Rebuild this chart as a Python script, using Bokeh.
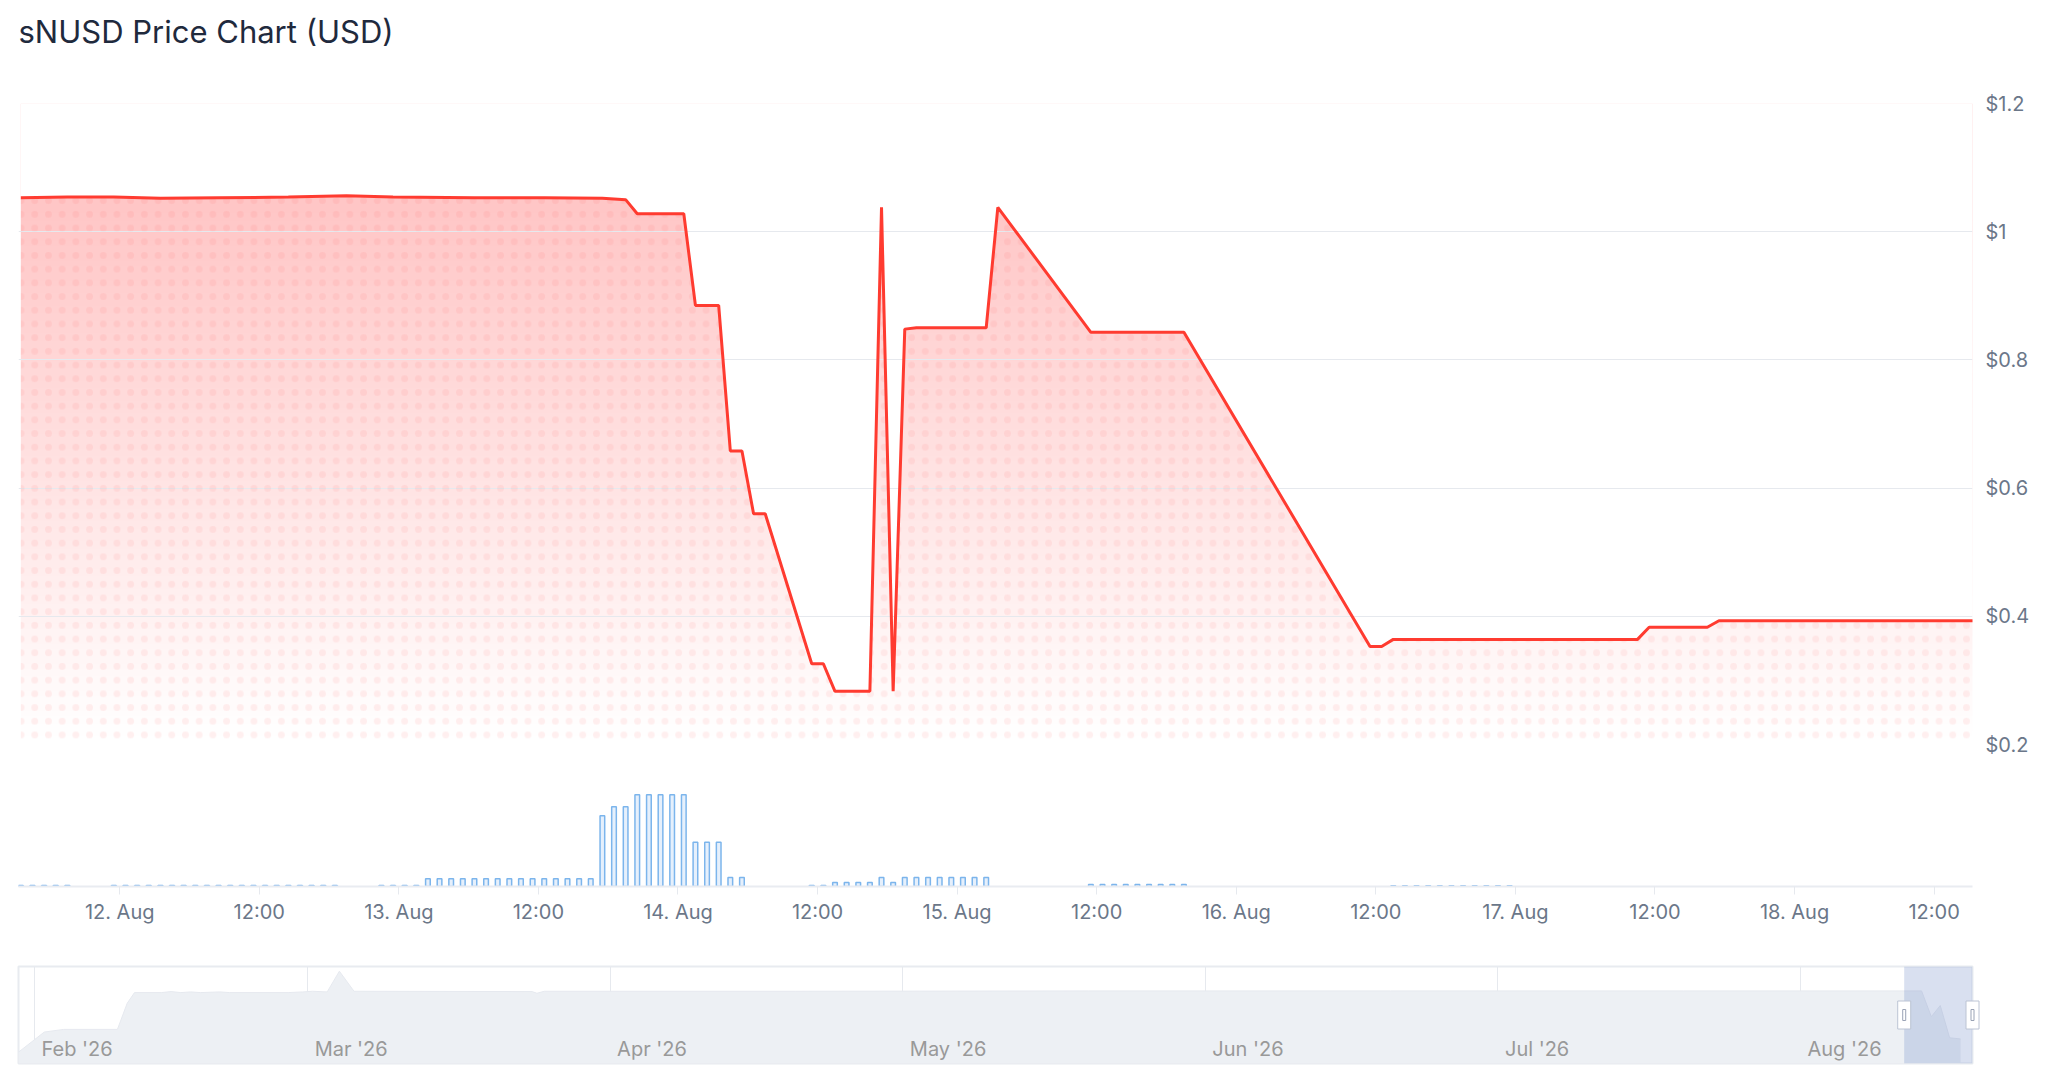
import numpy as np
import pandas as pd
from bokeh.plotting import figure
from bokeh.layouts import column
from bokeh.models import Range1d, FixedTicker, BoxAnnotation, Grid
from bokeh.core.properties import value
from bokeh.embed import file_html
from bokeh.resources import INLINE

# ---------------- data ----------------
TITLE = "sNUSD Price Chart (USD)"
ANCHOR = pd.Timestamp("2026-08-12 00:00")   # hour offsets below are measured from this instant

price_hours = [-8.5, -4.5, -0.5, 3.5, 8.5, 14.5, 19.5, 23.5, 30.5, 36.5,
               41.5, 42.5, 43.5, 44.5, 48.5, 49.5, 51.5, 52.5, 53.5, 54.5,
               55.5, 59.5, 60.5, 61.5, 64.5, 65.5, 66.5, 67.5, 68.5, 74.5,
               75.5, 83.5, 91.5, 107.5, 108.5, 109.5, 130.5, 131.5, 136.5, 137.5,
               159.5]
price_usd = [1.053, 1.054, 1.054, 1.052, 1.053, 1.054, 1.056, 1.054, 1.053, 1.053,
             1.052, 1.051, 1.050, 1.028, 1.028, 0.885, 0.885, 0.658, 0.658, 0.560,
             0.560, 0.326, 0.326, 0.283, 0.283, 1.038, 0.283, 0.848, 0.850, 0.850,
             1.038, 0.843, 0.843, 0.353, 0.353, 0.364, 0.364, 0.383, 0.383, 0.393,
             0.393]

vol_hours = [-8.5, -7.5, -6.5, -5.5, -4.5,
             -0.5, 0.5, 1.5, 2.5, 3.5, 4.5, 5.5, 6.5, 7.5, 8.5,
             9.5, 10.5, 11.5, 12.5, 13.5, 14.5, 15.5, 16.5, 17.5, 18.5,
             22.5, 23.5, 24.5, 25.5,
             26.5, 27.5, 28.5, 29.5, 30.5, 31.5, 32.5, 33.5, 34.5, 35.5,
             36.5, 37.5, 38.5, 39.5, 40.5,
             41.5, 42.5, 43.5, 44.5, 45.5, 46.5, 47.5, 48.5, 49.5, 50.5,
             51.5, 52.5, 53.5,
             59.5, 60.5, 61.5, 62.5, 63.5, 64.5, 65.5, 66.5, 67.5, 68.5,
             69.5, 70.5, 71.5, 72.5, 73.5, 74.5,
             83.5, 84.5, 85.5, 86.5, 87.5, 88.5, 89.5, 90.5, 91.5,
             109.5, 110.5, 111.5, 112.5, 113.5, 114.5, 115.5, 116.5, 117.5, 118.5,
             119.5]
vol_k = [1.0, 1.0, 1.0, 1.0, 1.0,
         1.0, 1.0, 1.0, 1.0, 1.0, 1.0, 1.0, 1.0, 1.0, 1.0,
         1.0, 1.0, 1.0, 1.0, 1.0, 1.0, 1.0, 1.0, 1.0, 1.0,
         1.0, 1.0, 1.0, 1.0,
         7.7, 7.7, 7.7, 7.7, 7.7, 7.7, 7.7, 7.7, 7.7, 7.7,
         7.7, 7.7, 7.7, 7.7, 7.7,
         70.3, 79.0, 79.0, 91.0, 91.0, 91.0, 91.0, 91.0, 44.0, 44.0,
         44.0, 9.0, 9.0,
         1.0, 1.0, 4.0, 4.0, 4.0, 4.0, 9.0, 4.0, 9.0, 9.0,
         9.0, 9.0, 9.0, 9.0, 9.0, 9.0,
         2.0, 2.0, 2.0, 2.0, 2.0, 2.0, 2.0, 2.0, 2.0,
         0.7, 0.7, 0.7, 0.7, 0.7, 0.7, 0.7, 0.7, 0.7, 0.7,
         0.7]

x_tick_hours = [0, 12, 24, 36, 48, 60, 72, 84, 96, 108, 120, 132, 144, 156]
x_tick_labels = ["12. Aug", "12:00", "13. Aug", "12:00", "14. Aug", "12:00", "15. Aug",
                 "12:00", "16. Aug", "12:00", "17. Aug", "12:00", "18. Aug", "12:00"]
y_tick_values = [0.2, 0.4, 0.6, 0.8, 1.0, 1.2]
y_tick_labels = ["$0.2", "$0.4", "$0.6", "$0.8", "$1", "$1.2"]

nav_dates = ["2026-01-30 08:40", "2026-02-02 00:00", "2026-02-04 00:00", "2026-02-09 12:00",
             "2026-02-10 12:00", "2026-02-11 06:00", "2026-02-14 00:00", "2026-02-15 00:00",
             "2026-02-16 00:00", "2026-02-17 00:00", "2026-02-18 00:00", "2026-02-20 00:00",
             "2026-02-21 00:00", "2026-02-27 00:00", "2026-02-28 12:00", "2026-03-01 12:00",
             "2026-03-03 00:00", "2026-03-04 06:00", "2026-03-05 18:00", "2026-03-24 00:00",
             "2026-03-24 12:00", "2026-03-25 06:00", "2026-04-20 00:00", "2026-05-20 00:00",
             "2026-06-20 00:00", "2026-07-20 00:00", "2026-08-13 10:00", "2026-08-14 10:00",
             "2026-08-15 08:00", "2026-08-16 07:00", "2026-08-17 10:00"]
nav_price = [0.17, 0.47, 0.51, 0.51,
             0.90, 1.06, 1.06, 1.075,
             1.06, 1.07, 1.06, 1.07,
             1.06, 1.06, 1.07, 1.08,
             1.07, 1.38, 1.08, 1.075,
             1.05, 1.08, 1.08, 1.085,
             1.085, 1.085, 1.085, 0.70,
             0.867, 0.384, 0.367]
nav_month_dates = ["2026-02-01", "2026-03-01", "2026-04-01", "2026-05-01",
                   "2026-06-01", "2026-07-01", "2026-08-01"]
nav_month_labels = ["Feb '26", "Mar '26", "Apr '26", "May '26", "Jun '26", "Jul '26", "Aug '26"]

# ---------------- view settings ----------------
VIEW_START_H, VIEW_END_H = -8.7, 159.3
NAV_START = "2026-01-30 08:40"
Y_LO, Y_HI = 0.2, 1.2
VOL_HI = 125.0
NAV_LO, NAV_HI = 0.0, 1.45

FONT = "Inter"
LABEL_COLOR = "#6b7789"
GRID_COLOR = "#e6e9ee"
RED = "#ff3b30"
FRAME_W = 1954
LEFT = 18


def ms(ts):
    return pd.Timestamp(ts).value / 1e6


def style_fig(p):
    p.background_fill_color = "white"
    p.border_fill_color = "white"
    p.outline_line_color = None


# ---------------- title strip ----------------
pT = figure(width=LEFT + FRAME_W + 10, height=70, x_axis_location=None, y_axis_location=None,
            toolbar_location=None, output_backend="svg",
            min_border_left=LEFT, min_border_right=10, min_border_top=0, min_border_bottom=0)
style_fig(pT)
pT.grid.visible = False
pT.title.text = TITLE
pT.title.text_font = FONT
pT.title.text_font_size = "31px"
pT.title.text_font_style = "normal"
pT.title.text_color = "#1f2a3d"
pT.title.align = "left"
pT.title.standoff = 21

# ---------------- price panel ----------------
x_range = Range1d(VIEW_START_H, VIEW_END_H)
pA = figure(frame_width=FRAME_W, frame_height=641, x_range=x_range,
            y_range=Range1d(Y_LO, Y_HI), x_axis_location=None, y_axis_location="right",
            toolbar_location=None, output_backend="svg",
            min_border_left=LEFT, min_border_right=5, min_border_top=33, min_border_bottom=12)
style_fig(pA)

yax = pA.yaxis[0]
yax.ticker = FixedTicker(ticks=y_tick_values)
yax.major_label_overrides = dict(zip(y_tick_values, y_tick_labels))
yax.axis_line_color = None
yax.major_tick_line_color = None
yax.minor_tick_line_color = None
yax.major_label_standoff = 7
yax.major_label_text_font = FONT
yax.major_label_text_font_size = "20px"
yax.major_label_text_color = LABEL_COLOR
pA.ygrid.grid_line_color = GRID_COLOR
pA.ygrid.grid_line_width = 1
pA.ygrid.ticker = FixedTicker(ticks=y_tick_values)
for g in pA.xgrid:
    g.visible = False

# gradient fill: vertical RGBA strip, then a white mask above the price line
N = 256
rows = np.arange(N)
vv = Y_LO + (rows + 0.5) / N * (Y_HI - Y_LO)
alpha = np.clip((vv - Y_LO) / (max(price_usd) - Y_LO), 0, 1) * 0.32
img = np.zeros((N, 1), dtype=np.uint32)
view = img.view(dtype=np.uint8).reshape((N, 1, 4))
view[:, 0, 0] = 255
view[:, 0, 1] = 72
view[:, 0, 2] = 72
view[:, 0, 3] = (alpha * 255).astype(np.uint8)
r_img = pA.image_rgba(image=[img], x=price_hours[0], y=Y_LO,
                      dw=price_hours[-1] - price_hours[0], dh=Y_HI - Y_LO)
r_img.level = "image"
r_mask = pA.varea(x=price_hours, y1=price_usd, y2=[Y_HI + 0.1] * len(price_usd),
                  fill_color="white", fill_alpha=1.0)
r_mask.level = "image"
pA.varea(x=price_hours, y1=[Y_LO] * len(price_usd), y2=price_usd, fill_color=None,
         hatch_pattern="dot", hatch_color="#ff4040", hatch_alpha=0.08,
         hatch_scale=13.7, hatch_weight=1.2)
pA.line(x=price_hours, y=price_usd, line_color=RED, line_width=3)

# ---------------- volume panel ----------------
pB = figure(frame_width=FRAME_W, frame_height=126, x_range=x_range,
            y_range=Range1d(0, VOL_HI), y_axis_location=None,
            toolbar_location=None, output_backend="svg",
            min_border_left=LEFT, min_border_right=10, min_border_top=4, min_border_bottom=78)
style_fig(pB)
pB.grid.visible = False
xax = pB.xaxis[0]
xax.ticker = FixedTicker(ticks=x_tick_hours)
xax.major_label_overrides = dict(zip(x_tick_hours, x_tick_labels))
xax.axis_line_color = "#e9ecf1"
xax.axis_line_width = 2
xax.major_tick_line_color = "#e6e9ee"
xax.major_tick_out = 8
xax.major_tick_in = 0
xax.minor_tick_line_color = None
xax.major_label_standoff = 5
xax.major_label_text_font = FONT
xax.major_label_text_font_size = "20px"
xax.major_label_text_color = LABEL_COLOR
pB.vbar(x=vol_hours, top=vol_k, bottom=0, width=0.4,
        fill_color="#e6f0fc", line_color="#7cb5ec", line_width=1.5)

# ---------------- navigator ----------------
sel_start = ms(ANCHOR + pd.Timedelta(hours=VIEW_START_H))
sel_end = ms(ANCHOR + pd.Timedelta(hours=VIEW_END_H))
nav_x = [ms(d) for d in nav_dates]
month_x = [ms(d) for d in nav_month_dates]

pC = figure(frame_width=FRAME_W, frame_height=97,
            x_range=Range1d(ms(NAV_START), sel_end), y_range=Range1d(NAV_LO, NAV_HI),
            x_axis_location=None, y_axis_location=None,
            toolbar_location=None, output_backend="svg",
            min_border_left=LEFT, min_border_right=10, min_border_top=2, min_border_bottom=3)
style_fig(pC)
pC.grid.visible = False          # hide the default grids of the hidden axes
pC.outline_line_color = "#e8ebf0"
pC.outline_line_width = 2
pC.add_layout(Grid(dimension=0, ticker=FixedTicker(ticks=month_x),
                   grid_line_color=GRID_COLOR, grid_line_width=1))
pC.varea(x=nav_x, y1=[NAV_LO] * len(nav_x), y2=nav_price, fill_color="#edf0f4")
pC.line(x=nav_x, y=nav_price, line_color="#e6e9ef", line_width=1)
pC.text(x=month_x, y=[NAV_LO + 0.15 * (NAV_HI - NAV_LO)] * len(month_x), text=nav_month_labels,
        x_offset=7, text_align="left", text_baseline="middle",
        text_font=value(FONT), text_font_size="20px", text_color="#999999")
pC.add_layout(BoxAnnotation(left=sel_start, right=sel_end, fill_color="#6685c2",
                            fill_alpha=0.25, line_color=None))
mid = (NAV_LO + NAV_HI) / 2
r_h = pC.rect(x=[sel_start, sel_end], y=[mid, mid], width=13, height=28,
              width_units="screen", height_units="screen",
              fill_color="white", line_color="#bcc4d4", line_width=1)
r_h.level = "overlay"
r_g = pC.rect(x=[sel_start, sel_end], y=[mid, mid], width=3, height=11,
              width_units="screen", height_units="screen",
              fill_color=None, line_color="#9aa3b5", line_width=1)
r_g.level = "overlay"

layout = column(pT, pA, pB, pC, spacing=0)
open("out.html", "w").write(file_html(layout, INLINE, title=TITLE))
